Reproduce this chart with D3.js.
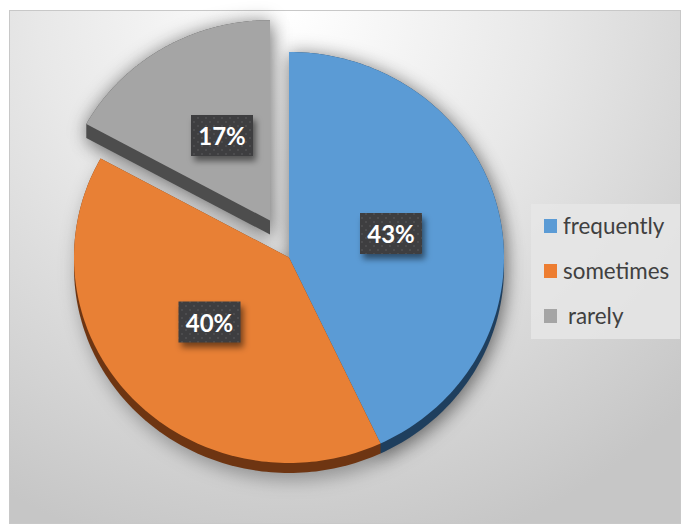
<!DOCTYPE html>
<html><head><meta charset="utf-8">
<script src="https://cdn.jsdelivr.net/npm/d3@7/dist/d3.min.js"></script>
<style>html,body{margin:0;padding:0;background:#fff}svg{display:block}</style>
</head><body><svg id="c" width="684" height="530"></svg>
<script>
const categories = ["frequently","sometimes","rarely"];
const values = [43,40,17];
const labels = ["43%","40%","17%"];
const legendLabels = ["frequently","sometimes"," rarely"];
const topColors = ["#5b9bd5","#e88035","#a5a5a5"];
const sideColors = ["#1f3f5e","#6e3512","#4d4d4d"];
const legendColors = ["#5b9bd5","#ed7d31","#a5a5a5"];

const W=684,H=530;
const svg=d3.select("#c");
const defs=svg.append("defs");
const bg=defs.append("radialGradient").attr("id","bg").attr("gradientUnits","userSpaceOnUse")
  .attr("cx",290).attr("cy",10).attr("r",560);
[[0,"#ffffff"],[0.45,"#e8e8e8"],[1,"#c6c6c6"]].forEach(s=>bg.append("stop").attr("offset",s[0]).attr("stop-color",s[1]));
const blur=defs.append("filter").attr("id","pieShadow").attr("x","-30%").attr("y","-30%").attr("width","160%").attr("height","160%");
blur.append("feGaussianBlur").attr("stdDeviation",9);
const lblur=defs.append("filter").attr("id","lblShadow").attr("x","-40%").attr("y","-40%").attr("width","180%").attr("height","180%");
lblur.append("feGaussianBlur").attr("stdDeviation",3);
const pat=defs.append("pattern").attr("id","dots").attr("width",8).attr("height",8).attr("patternUnits","userSpaceOnUse");
pat.append("rect").attr("width",8).attr("height",8).attr("fill","#3e3e40");
pat.append("circle").attr("cx",2).attr("cy",2).attr("r",0.9).attr("fill","#525254");
pat.append("circle").attr("cx",6).attr("cy",6).attr("r",0.9).attr("fill","#525254");

svg.append("rect").attr("width",W).attr("height",H).attr("fill","#fff");
svg.append("rect").attr("x",9.5).attr("y",10.5).attr("width",671).attr("height",513).attr("fill","url(#bg)").attr("stroke","#c8c8c8");

const arcs=d3.pie().sort(null).value(d=>d)(values);
const rx=215, ry=205.5, cx=289, cy=257.5;
const depth=10;
// per-slice placement: the third slice is pulled out
const place=[{dx:0,dy:0,sx:1,sy:1},{dx:0,dy:0,sx:1,sy:1},{dx:-19,dy:-37,sx:0.975,sy:0.975}];

function ringOf(d,i){
  const p=place[i], n=120;
  const ring=d3.range(n+1).map(k=>{const a=d.startAngle+(d.endAngle-d.startAngle)*k/n;
    return [cx+p.dx+rx*p.sx*Math.sin(a),cy+p.dy+ry*p.sy*-Math.cos(a)];});
  ring.push([cx+p.dx,cy+p.dy]);
  return ring;
}
function slicePath(d,i){return "M"+ringOf(d,i).join("L")+"Z";}
function sideShape(d,i){ // top surface swept down by the depth
  const dep=i===2?14:depth;
  const ring=ringOf(d,i);
  return "M"+d3.polygonHull(ring.concat(ring.map(q=>[q[0],q[1]+dep]))).join("L")+"Z";
}

// soft wide shadow plus a second one that fills the gap around the pulled-out slice
const sh=svg.append("g").attr("filter","url(#pieShadow)").attr("fill","#000").attr("fill-opacity",0.3).attr("transform","translate(3,7)");
sh.selectAll("path").data(arcs).join("path").attr("d",(d,i)=>sideShape(d,i));
const sh2=svg.append("g").attr("filter","url(#pieShadow)").attr("fill","#000").attr("fill-opacity",0.34);
sh2.selectAll("path").data(arcs.filter((d,i)=>i!==1)).join("path").attr("d",d=>sideShape(d,d.index));

const g=svg.append("g");
g.selectAll("path.side").data(arcs).join("path").attr("class","side").attr("fill",(d,i)=>sideColors[i]).attr("d",(d,i)=>sideShape(d,i));
g.selectAll("path.top").data(arcs).join("path").attr("class","top").attr("fill",(d,i)=>topColors[i]).attr("d",(d,i)=>slicePath(d,i));

// data labels
const labelPos=[[391,233.5],[209.5,322],[222,135.5]];
const lab=svg.append("g");
labels.forEach((t,i)=>{
  const [x,y]=labelPos[i];
  lab.append("rect").attr("x",x-31+3).attr("y",y-20.5+5).attr("width",62).attr("height",41).attr("fill","#000").attr("fill-opacity",0.5).attr("filter","url(#lblShadow)");
  lab.append("rect").attr("x",x-31).attr("y",y-20.5).attr("width",62).attr("height",41).attr("fill","url(#dots)");
  lab.append("text").attr("x",x).attr("y",y).attr("text-anchor","middle").attr("dominant-baseline","central")
    .attr("font-family","Lato, 'Open Sans', sans-serif").attr("font-weight",700).attr("font-size",24).attr("fill","#fff").text(t);
});

// legend
const lg=svg.append("g");
lg.append("rect").attr("x",531).attr("y",204).attr("width",149).attr("height",135).attr("fill","#e6e6e6").attr("fill-opacity",0.85);
const ly=d3.scalePoint().domain(categories).range([226,316]);
categories.forEach((c,i)=>{
  lg.append("rect").attr("x",544).attr("y",ly(c)-7).attr("width",13).attr("height",14).attr("fill",legendColors[i]);
  lg.append("text").attr("x",i===2?568:563).attr("y",ly(c)+7.5).attr("font-family","Lato, 'Open Sans', sans-serif")
    .attr("font-size",22.4).attr("fill","#404040").text(legendLabels[i].trim());
});
</script></body></html>
